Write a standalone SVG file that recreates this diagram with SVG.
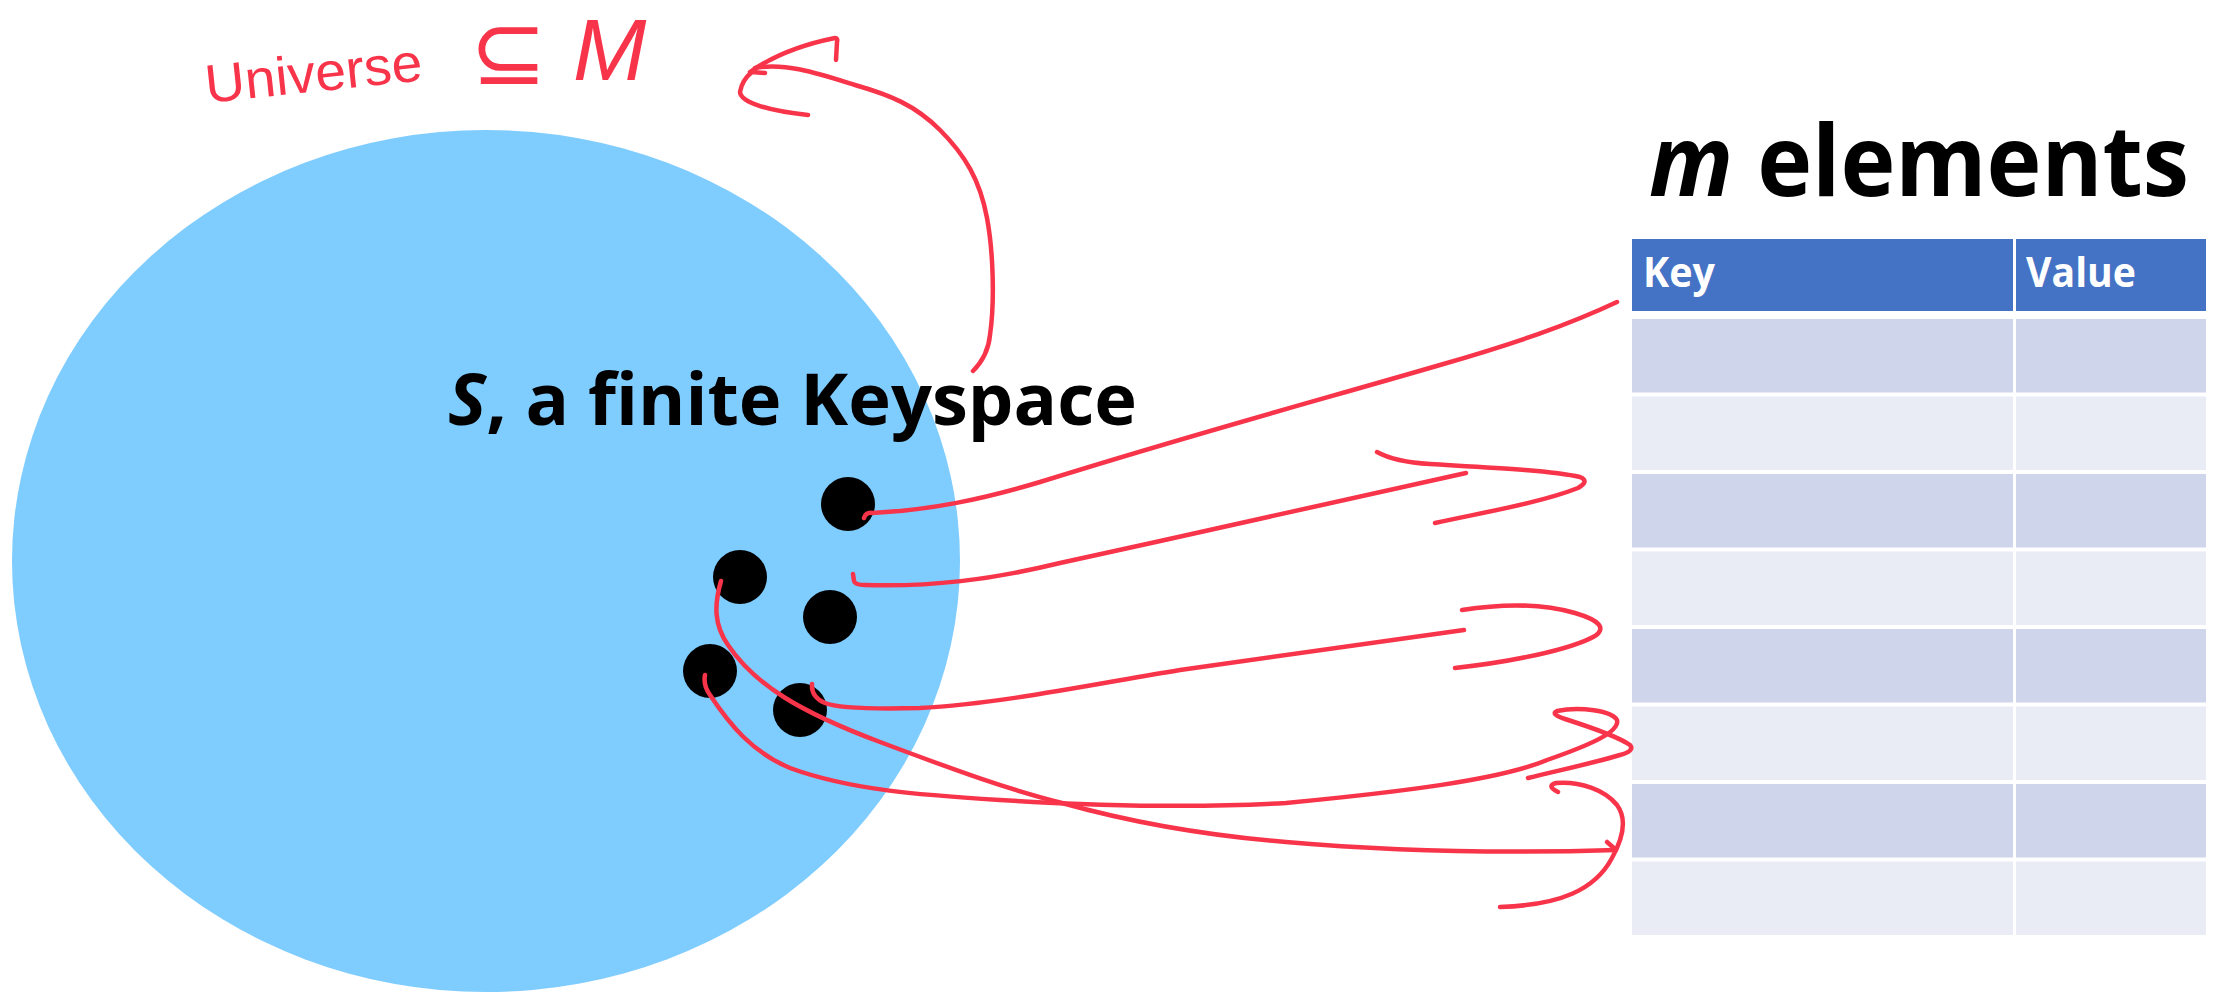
<svg xmlns="http://www.w3.org/2000/svg" width="2220" height="993" viewBox="0 0 2220 993">
<style>
.ink{fill:none;stroke:#F8344A;stroke-width:4.5;stroke-linecap:round;stroke-linejoin:round}
.dot{fill:#000}
.hd{fill:#4472C4}
.r1{fill:#CFD5EA}
.r2{fill:#E9EBF5}
.hdt{font-family:"Open Sans","Liberation Sans",sans-serif;font-weight:bold;font-size:42px;fill:#fff}
.big{font-family:"Open Sans","Liberation Sans",sans-serif;font-weight:bold;fill:#000}
.hand{font-family:"Liberation Sans","DejaVu Sans",sans-serif;fill:#F8344A}
</style>
<rect width="2220" height="993" fill="#fff"/>
<g id="keyspace">
<ellipse cx="486" cy="561" rx="474" ry="431" fill="#7FCCFF"/>
<text class="big" x="448" y="425" font-size="72" textLength="689" lengthAdjust="spacingAndGlyphs"><tspan font-style="italic">S</tspan>, a finite Keyspace</text>
</g>
<g id="dots">
<circle id="dot1" class="dot" cx="848" cy="504" r="27"/>
<circle id="dot2" class="dot" cx="740" cy="577" r="27"/>
<circle id="dot3" class="dot" cx="830" cy="617" r="27"/>
<circle id="dot4" class="dot" cx="710" cy="671" r="27"/>
<circle id="dot5" class="dot" cx="800" cy="710" r="27"/>
</g>
<g id="universe-label">
<text class="hand" x="207" y="103" font-size="54" textLength="218" lengthAdjust="spacingAndGlyphs" transform="rotate(-6 207 103)">Universe</text>
<text class="hand" x="470" y="84" font-size="92">⊆</text>
<text class="hand" x="573" y="80" font-size="88" font-style="italic">M</text>
</g>
<g id="title">
<text class="big" x="1649" y="196" font-size="98" textLength="540" lengthAdjust="spacingAndGlyphs"><tspan font-style="italic">m</tspan> elements</text>
</g>
<g id="table">
<rect class="hd" x="1632" y="239" width="381" height="72"/>
<rect class="hd" x="2016" y="239" width="190" height="72"/>
<text class="hdt" x="1643" y="287" textLength="72" lengthAdjust="spacingAndGlyphs">Key</text>
<text class="hdt" x="2026" y="287" textLength="110" lengthAdjust="spacingAndGlyphs">Value</text>
<rect class="r1" x="1632" y="319" width="381" height="73.5"/><rect class="r1" x="2016" y="319" width="190" height="73.5"/>
<rect class="r2" x="1632" y="396.5" width="381" height="73.5"/><rect class="r2" x="2016" y="396.5" width="190" height="73.5"/>
<rect class="r1" x="1632" y="474" width="381" height="73.5"/><rect class="r1" x="2016" y="474" width="190" height="73.5"/>
<rect class="r2" x="1632" y="551.5" width="381" height="73.5"/><rect class="r2" x="2016" y="551.5" width="190" height="73.5"/>
<rect class="r1" x="1632" y="629" width="381" height="73.5"/><rect class="r1" x="2016" y="629" width="190" height="73.5"/>
<rect class="r2" x="1632" y="706.5" width="381" height="73.5"/><rect class="r2" x="2016" y="706.5" width="190" height="73.5"/>
<rect class="r1" x="1632" y="784" width="381" height="73.5"/><rect class="r1" x="2016" y="784" width="190" height="73.5"/>
<rect class="r2" x="1632" y="861.5" width="381" height="73.5"/><rect class="r2" x="2016" y="861.5" width="190" height="73.5"/>
</g>
<g id="connectors">
<path class="ink" d="M973,371 Q988,356 990,335 C995,300 993,250 987,218 C980,180 965,155 940,130 C915,105 890,95 855,85 C820,74 785,62 755,68"/>
<path class="ink" d="M750,72 C770,58 800,45 835,38 Q838,38 837,42 L836,60"/>
<path class="ink" d="M765,73 L752,72 Q742,80 740,92 C741,103 770,111 808,115"/>
<path class="ink" d="M864,518 Q866,512 872,513 C930,510 980,500 1040,482 C1200,432 1320,400 1440,365 C1520,342 1570,324 1617,302"/>
<path class="ink" d="M853,574 L854,581 Q855,585 865,585 C930,587 990,580 1060,563 C1200,532 1350,500 1466,473"/>
<path class="ink" d="M1377,452 Q1395,462 1430,464 C1480,467 1550,470 1580,477 Q1590,481 1578,488 C1540,503 1480,513 1435,523"/>
<path class="ink" d="M812,684 Q811,697 825,703 C840,709 880,709 920,708 C1000,704 1100,683 1180,670 C1280,656 1380,642 1464,630"/>
<path class="ink" d="M1462,610 C1500,604 1540,603 1575,613 Q1612,624 1595,636 C1570,650 1510,662 1455,668"/>
<path class="ink" d="M721,581 C714,605 714,625 728,645 C755,685 800,712 880,742 C960,772 1010,790 1062,803 C1130,822 1200,835 1286,842 C1400,852 1520,853 1616,850"/>
<path class="ink" d="M1607,842 L1615,849"/>
<path class="ink" d="M1558,792 Q1546,786 1556,783 C1580,781 1605,790 1617,805 C1628,820 1622,840 1612,858 C1595,890 1560,905 1500,907"/>
<path class="ink" d="M705,675 Q703,685 710,695 C730,725 752,752 790,768 C850,790 920,795 1000,800 C1100,806 1200,808 1286,803 C1400,792 1500,780 1547,760 C1590,745 1620,732 1617,720 C1612,711 1580,706 1557,711 Q1550,714 1565,719 C1590,727 1620,738 1630,745 Q1635,751 1620,755 C1590,764 1560,770 1528,778"/>
</g>
</svg>
